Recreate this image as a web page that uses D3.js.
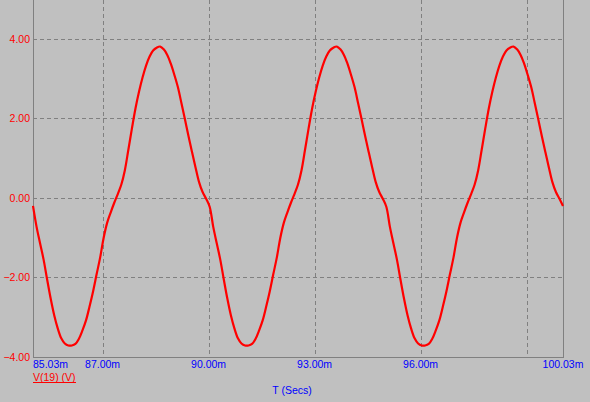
<!DOCTYPE html>
<html>
<head>
<meta charset="utf-8">
<script src="https://cdn.jsdelivr.net/npm/d3@7"></script>
<style>
    html, body { margin: 0; padding: 0; background: #c0c0c0; }
    svg { display: block; }
</style>
</head>
<body>
<div id="chart"></div>
<script>
const tStart = 85.03;
const tStep = 0.1;
const voltage = [
    -0.20, -0.72, -1.14, -1.55, -2.05, -2.53, -2.95, -3.28, -3.53, -3.66,
    -3.71, -3.71, -3.67, -3.54, -3.33, -3.08, -2.73, -2.35, -1.92, -1.50,
    -1.00, -0.62, -0.36, -0.12, 0.10, 0.34, 0.70, 1.22, 1.75, 2.25,
    2.67, 3.03, 3.33, 3.56, 3.71, 3.78, 3.81, 3.74, 3.60, 3.38,
    3.10, 2.79, 2.39, 1.98, 1.56, 1.16, 0.77, 0.40, 0.15, -0.02,
    -0.22, -0.72, -1.14, -1.55, -2.05, -2.53, -2.95, -3.28, -3.53, -3.66,
    -3.71, -3.71, -3.67, -3.54, -3.33, -3.08, -2.73, -2.35, -1.92, -1.50,
    -1.00, -0.62, -0.36, -0.12, 0.10, 0.34, 0.70, 1.22, 1.75, 2.25,
    2.67, 3.03, 3.33, 3.56, 3.71, 3.78, 3.81, 3.74, 3.60, 3.38,
    3.10, 2.79, 2.39, 1.98, 1.56, 1.16, 0.77, 0.40, 0.15, -0.02,
    -0.22, -0.72, -1.14, -1.55, -2.05, -2.53, -2.95, -3.28, -3.53, -3.66,
    -3.71, -3.71, -3.67, -3.54, -3.33, -3.08, -2.73, -2.35, -1.92, -1.50,
    -1.00, -0.62, -0.36, -0.12, 0.10, 0.34, 0.70, 1.22, 1.75, 2.25,
    2.67, 3.03, 3.33, 3.56, 3.71, 3.78, 3.81, 3.74, 3.60, 3.38,
    3.10, 2.79, 2.39, 1.98, 1.56, 1.16, 0.77, 0.40, 0.15, -0.02,
    -0.20
];

// Axis ticks
const yTicks = [4, 2, 0, -2, -4];
const xGrid = [87, 90, 93, 96, 99];
const xLabels = [
    { t: 85.03, text: "85.03m" },
    { t: 87, text: "87.00m" },
    { t: 90, text: "90.00m" },
    { t: 93, text: "93.00m" },
    { t: 96, text: "96.00m" },
    { t: 100.03, text: "100.03m" }
];

const width = 590;
const height = 402;
const plotLeft = 33;
const plotRight = 563;
const plotTop = 0;
const plotBottom = 357;

const x = d3.scaleLinear().domain([85.03, 100.03]).range([plotLeft, plotRight]);
// -4 sits on the bottom frame, 4.00 at y=39; the top edge is cut off a little above 4.98
const y = d3.scaleLinear().domain([-4, 4.981]).range([plotBottom, plotTop]);

const svg = d3.select("#chart").append("svg")
    .attr("width", width)
    .attr("height", height)
    .attr("style", "font-family: 'Liberation Sans', Arial, sans-serif; font-size: 10.5px;");

svg.append("rect")
    .attr("width", width)
    .attr("height", height)
    .attr("fill", "#c0c0c0");

// Dashed grid
const grid = svg.append("g")
    .attr("stroke", "#808080")
    .attr("stroke-width", 1)
    .attr("stroke-dasharray", "4,3")
    .attr("shape-rendering", "crispEdges");

grid.selectAll("line.h")
    .data(yTicks.filter(d => d > -4))
    .join("line")
    .attr("class", "h")
    .attr("x1", plotLeft)
    .attr("x2", plotRight)
    .attr("y1", d => Math.round(y(d)) + 0.5)
    .attr("y2", d => Math.round(y(d)) + 0.5);

grid.selectAll("line.v")
    .data(xGrid)
    .join("line")
    .attr("class", "v")
    .attr("x1", d => Math.round(x(d)) + 0.5)
    .attr("x2", d => Math.round(x(d)) + 0.5)
    .attr("y1", plotTop)
    .attr("y2", plotBottom);

// Frame: left, bottom and right edges
svg.append("path")
    .attr("d", `M${plotLeft + 0.5},${plotTop}V${plotBottom + 0.5}H${plotRight + 0.5}V${plotTop}`)
    .attr("fill", "none")
    .attr("stroke", "#808080")
    .attr("stroke-width", 1)
    .attr("shape-rendering", "crispEdges");

// The trace
const line = d3.line()
    .x((d, i) => x(tStart + i * tStep))
    .y(d => y(d))
    .curve(d3.curveCatmullRom);

svg.append("path")
    .datum(voltage)
    .attr("d", line)
    .attr("fill", "none")
    .attr("stroke", "#ff0000")
    .attr("stroke-width", 2.2)
    .attr("stroke-linejoin", "round");

// Y tick labels
svg.append("g")
    .selectAll("text")
    .data(yTicks)
    .join("text")
    .attr("x", 30)
    .attr("y", d => y(d) + 3.8)
    .attr("text-anchor", "end")
    .attr("fill", "#ff0000")
    .text(d => d3.format(".2f")(d));

// X tick labels
svg.append("g")
    .selectAll("text")
    .data(xLabels)
    .join("text")
    .attr("x", d => d.t === 85.03 ? plotLeft : x(d.t))
    .attr("y", 367.5)
    .attr("text-anchor", d => d.t === 85.03 ? "start" : "middle")
    .attr("fill", "#0000ff")
    .text(d => d.text);

// Trace name, with the underline drawn below the parentheses
const traceLabel = svg.append("text")
    .attr("x", plotLeft)
    .attr("y", 380.5)
    .attr("fill", "#ff0000")
    .text("V(19) (V)");

const labelWidth = traceLabel.node().getComputedTextLength();
svg.append("line")
    .attr("x1", plotLeft)
    .attr("x2", plotLeft + labelWidth)
    .attr("y1", 382.5)
    .attr("y2", 382.5)
    .attr("stroke", "#ff0000")
    .attr("stroke-width", 1)
    .attr("shape-rendering", "crispEdges");

svg.append("text")
    .attr("x", 292)
    .attr("y", 394)
    .attr("text-anchor", "middle")
    .attr("fill", "#0000ff")
    .text("T (Secs)");
</script>
</body>
</html>
